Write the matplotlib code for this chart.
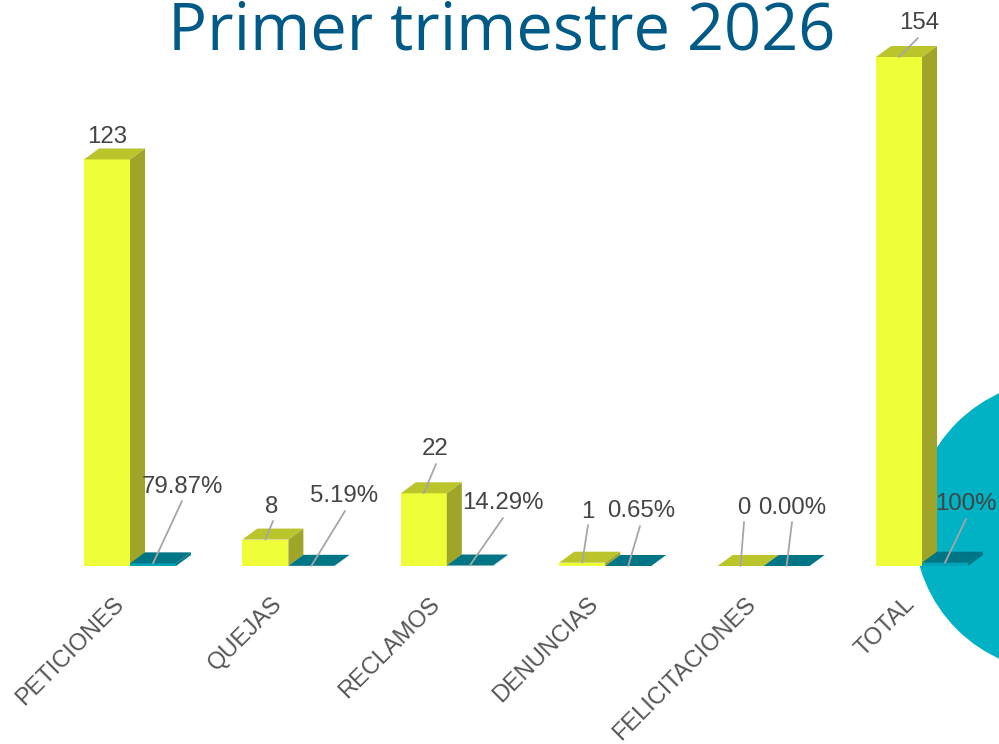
import matplotlib.pyplot as plt
from matplotlib.patches import Circle, Polygon

plt.rcParams["font.family"] = ["Liberation Sans", "DejaVu Sans"]

categories = ["PETICIONES", "QUEJAS", "RECLAMOS", "DENUNCIAS", "FELICITACIONES", "TOTAL"]
counts = [123, 8, 22, 1, 0, 154]
shares = [0.7987, 0.0519, 0.1429, 0.0065, 0.0, 1.0]
share_labels = ["79.87%", "5.19%", "14.29%", "0.65%", "0.00%", "100%"]

# layout, in picture pixels
W, H = 999, 744
BASE_Y = 566
FIRST_X = 84
SLOT = 158.4
PX_PER_UNIT = 509 / 154
BAR_W = 46 / SLOT
DX = 15 / SLOT
DY = 11 / PX_PER_UNIT

count_text = [(107, 137), (272, 507), (435, 449), (588, 512), (744, 508), (919, 23)]
count_tips = [None, (273, 521), (436, 464), (588, 525), (744, 522), (918, 38)]
share_text = [(182, 487), (344, 496), (503, 503), (641, 511), (792, 508), (966, 504)]
share_tips = [(182, 501), (345, 511), (503, 518), (640, 526), (792, 522), (966, 519)]
cat_anchor = [(113, 593), (271, 593), (429, 593), (587, 593), (745, 593), (904, 593)]

YELLOW = ("#eeff3a", "#9ea528", "#bac52c")
TEAL = ("#00a3b5", "#007585", "#007585")


def draw_bars(ax, xs, values, faces):
    front, side, top = faces
    ax.bar(xs, values, width=BAR_W, align="edge", color=front, linewidth=0, zorder=2)
    for x, v in zip(xs, values):
        r = x + BAR_W
        ax.add_patch(Polygon([(r, 0), (r + DX, DY), (r + DX, v + DY), (r, v)], fc=side, ec="none", zorder=2))
        ax.add_patch(Polygon([(x, v), (r, v), (r + DX, v + DY), (x + DX, v + DY)], fc=top, ec="none", zorder=3))


fig = plt.figure(figsize=(W / 100, H / 100), dpi=100)

# background layer in pixels: circle and title
bg = fig.add_axes([0, 0, 1, 1], zorder=0)
bg.set_xlim(0, W)
bg.set_ylim(H, 0)
bg.axis("off")
bg.add_patch(Circle((1060, 526), 146, fc="#00b2c3", ec="none"))
bg.text(502, 49, "Primer trimestre 2026", color="#005a87", fontsize=46.8, family="Open Sans", ha="center", va="baseline")

# chart layer: x in categories, y in counts
ax = fig.add_axes([0, 0, 1, 1], zorder=1)
ax.patch.set_alpha(0)
ax.set_xlim(-FIRST_X / SLOT, (W - FIRST_X) / SLOT)
ax.set_ylim((BASE_Y - H) / PX_PER_UNIT, BASE_Y / PX_PER_UNIT)
ax.axis("off")

positions = list(range(len(categories)))
draw_bars(ax, positions, counts, YELLOW)
draw_bars(ax, [p + BAR_W for p in positions], shares, TEAL)


def leader(x, v, tip):
    ax.annotate("", xy=(x, v), xytext=tip, textcoords=bg.transData, zorder=5,
                arrowprops=dict(arrowstyle="-", color="#a6a6a6", lw=1.3, shrinkA=0, shrinkB=0))


for i, p in enumerate(positions):
    if count_tips[i]:
        leader(p + BAR_W / 2, counts[i], count_tips[i])
    leader(p + BAR_W * 1.5, shares[i], share_tips[i])
    ax.text(*count_text[i], str(counts[i]), transform=bg.transData, color="#444444", fontsize=17.3,
            ha="center", va="center", zorder=6)
    ax.text(*share_text[i], share_labels[i], transform=bg.transData, color="#444444", fontsize=17.3,
            ha="center", va="center", zorder=6)
    ax.text(*cat_anchor[i], categories[i], transform=bg.transData, color="#555555", fontsize=17,
            rotation=45, rotation_mode="anchor", ha="right", va="top", zorder=6)

fig.savefig("out.png", dpi=100)
